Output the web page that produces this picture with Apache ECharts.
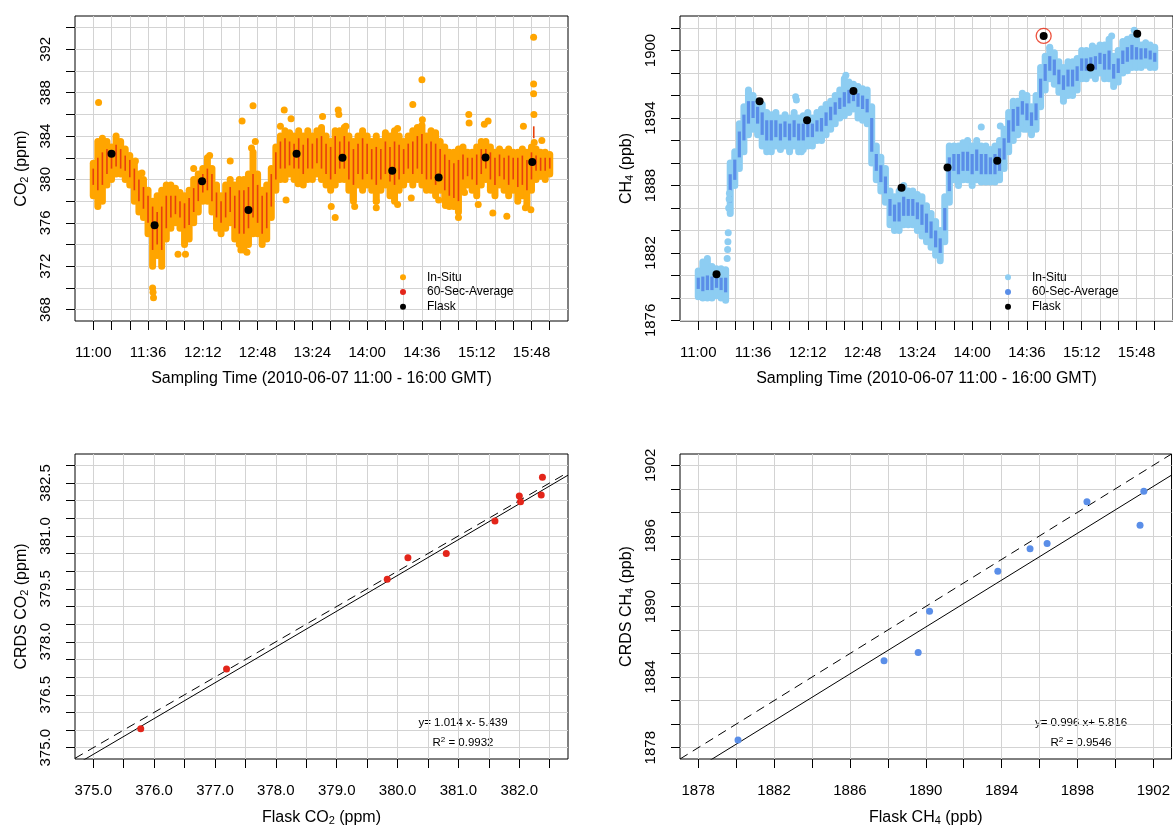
<!DOCTYPE html>
<html><head><meta charset="utf-8">
<script src="https://cdn.jsdelivr.net/npm/echarts@6/dist/echarts.min.js"></script>
<style>html,body{margin:0;padding:0;background:#fff}#c{width:1173px;height:827px}</style>
</head><body><div id="c"></div>
<script>
// ---- time grid (minutes after 11:00 GMT) ----
const minutes = [0,3,6,9,12,15,18,21,24,27,30,33,36,39,42,45,48,51,54,57,60,63,66,69,72,75,78,81,84,87,90,93,96,99,102,105,108,111,114,117,120,123,126,129,132,135,138,141,144,147,150,153,156,159,162,165,168,171,174,177,180,183,186,189,192,195,198,201,204,207,210,213,216,219,222,225,228,231,234,237,240,243,246,249,252,255,258,261,264,267,270,273,276,279,282,285,288,291,294,297,300];
const timeTicks = [0,12,24,36,48,60,72,84,96,108,120,132,144,156,168,180,192,204,216,228,240,252,264,276,288,300];
const timeLabels = [0,36,72,108,144,180,216,252,288];

// ---- CO2 in-situ envelope and 60-sec average streaks (ppm) ----
const co2Lo = [378.5,377.5,378,379.5,380,380.5,380.5,380,379.5,378,377,376.5,375,372,373,372,374.5,375.5,376,375.5,374,374.5,376,377,378,378,377,375.5,375,375.5,376,374.5,374,373.5,374,375,375,374,374.5,376.5,379,380,380,380.5,380,380,379.5,380,380,380.5,380,379.5,379,379.5,380,380,379,378,379.5,379,379.5,379,378,379,379.5,378.5,378,379,379.5,380,379.5,380,379.5,379,379,378.5,379,378,377.5,377.5,377,379,379.5,379,378.5,379.5,380,379,378.5,379.5,379,378.5,379,378,378.5,377.5,379,380,380.3,380,380.5];
const co2Hi = [381.5,383.5,383.8,383.5,383,384,383.5,382.8,382.2,381.5,380.5,380,379,378,378.5,379,379.5,379.5,379.2,378.8,378.5,379,380,380.5,381,382,381,379.5,378.5,379.5,380,379.5,380,380,380.5,382.5,380.5,379,379.5,381,383,384,384.5,384.3,384,384.5,384,384.5,384,384.5,384.8,384,383.5,384.5,384.5,384.8,384,383.5,384,384.5,384,383.5,384,383.5,384.3,384,384.5,384,383.5,384,384.5,384.8,385,384,384.5,384.3,383.5,383,382.5,382.5,382.8,383,382.5,382.5,383,383.5,383.5,383,382.5,382.8,382.5,382.8,382.5,382.5,382.8,382.5,383,382.8,382.5,382.5,382.3];
const co2AvgLo = [379.5,379,379.5,380.5,381,381.2,381,380.8,380.2,379,378,377.3,376,373.5,374,373.5,375.5,376.5,376.8,376.5,375.5,375.8,377,378,378.8,379,378,376.5,376,376.5,377,375.5,375,375,375.5,376.5,376,375,375.5,377.5,380,381,381,381.3,381,381,380.5,381,381,381.5,381,380.5,380,380.5,381,381,380,379.5,380.5,380,380.5,380,379.5,380,380.5,379.8,379.5,380,380.5,381,380.5,381,380.5,380,380,379.5,380,379,378.5,378.3,378,380,380.3,380,379.5,380.5,381,380,379.5,380.3,380,379.5,380,379.3,379.5,379,380,380.8,380.8,380.8,381];
const co2AvgHi = [381,382,382.5,382.8,382.5,383.2,382.8,382.2,381.8,381,380,379.3,378.5,377.5,377,377.5,378.5,378.5,378.5,378,377.8,378.3,379.2,380,380.5,381,380.5,378.8,378,378.8,379.3,378.5,379,379,379.3,380.5,379.5,378.5,378.8,380.5,382.5,383.5,383.8,383.5,383.3,383.8,383.2,383.8,383.3,383.8,384,383.3,383,384,383.5,384,383.5,382.8,383.3,383.8,383.3,382.8,383,382.8,383.5,383,383.5,383.2,382.8,383.3,383.5,384,384.2,383.3,383.5,383.3,382.8,382.3,381.8,381.5,381.8,382.3,382,382,382.3,382.8,382.8,382.5,382,382.3,382,382.2,382,382,382.2,381.8,382.5,382.2,382,382,382];
const co2AvgSpike = [[289.5, 383.8, 384.9]];
const co2Outliers = [[3.5,387.1],[27.7,381.7],[32,380.6],[39,370.0],[39.3,369.6],[39.6,369.1],[55.7,373.1],[60.6,373.1],[66,381],[76.5,382.2],[90,381.7],[97,373.5],[97.8,385.4],[101,373.3],[104,382.9],[105,386.8],[106.5,383.5],[123,384.9],[125.5,386.4],[126.7,378.1],[130,385.6],[134.6,379.6],[150.7,385.8],[156.4,377.5],[159,376.5],[161,386.4],[161.4,386],[166,384.9],[171.8,377.5],[186,378.0],[186,377.4],[200,384.7],[200,377.7],[209,378.3],[210,386.9],[216,389.2],[216.3,385.5],[227,378.1],[231.4,377.6],[240,376.5],[244,378.8],[246.8,386.0],[247,385.2],[253,377.7],[257,385.1],[259.5,385.4],[261,379.3],[262.6,376.9],[271.8,376.6],[282.7,384.9],[284,377.4],[287.6,377.2],[289.4,393.1],[289.4,388.8],[289.4,387.9],[289.6,386.0],[289.8,383.4],[294.8,383.6]];

// ---- CH4 in-situ envelope and 60-sec average streaks (ppb) ----
const ch4Lo = [1878.1,1878.0,1878.0,1878.0,1878.2,1878.0,1877.8,1885.5,1888,1889.5,1891,1892.5,1893,1892.5,1891.5,1891,1891,1891.5,1891.2,1891.5,1891,1891.5,1891,1891.2,1891.5,1891.5,1892,1892,1892.5,1893,1893.5,1894,1894.2,1894.5,1894.8,1894,1893.8,1893.5,1890,1888.5,1887.5,1886.5,1884.5,1884,1884,1884.5,1884.5,1884.5,1884,1883.5,1883,1882.5,1881.8,1881.3,1883,1886.5,1888.5,1888,1888.5,1888.5,1888,1888.5,1888.3,1888.3,1888.3,1888.3,1888.5,1889.5,1891,1892,1892.5,1893.5,1893,1892.5,1893,1895,1896.5,1897.5,1897,1896.3,1895.5,1896,1896,1896.5,1897.5,1897.5,1897.8,1897.5,1898,1897.5,1897.5,1896.8,1897.2,1898,1898.2,1898.5,1898.5,1898.5,1898.7,1898.5,1898.5];
const ch4Hi = [1880.4,1881.2,1881.5,1880.8,1880.6,1880.6,1880.5,1890,1891,1893.5,1895,1896.5,1896,1895.5,1895.2,1894.5,1894.3,1894.5,1894,1894.3,1894,1894.5,1894,1894.2,1894.5,1894,1894.5,1894.8,1895.2,1895.5,1896,1896.5,1897.5,1897.2,1897,1896.8,1896.6,1896.5,1895,1891.5,1890.5,1889.5,1887.5,1887,1887.5,1888,1887.5,1887.5,1887.2,1887,1886.2,1885.5,1884.8,1884,1887,1891.5,1891.5,1891.5,1891.8,1892,1891.5,1892,1891.5,1891.5,1891.2,1891.5,1892,1893,1894.5,1895.5,1895.5,1896.2,1896,1895,1896,1898.5,1899.5,1900.2,1899.8,1899,1898.5,1899,1899,1899.3,1900,1900,1900,1900.2,1900.5,1900.5,1901,1899.5,1900,1900.8,1901,1901.2,1901,1900.5,1900.7,1900.5,1900.3];
const ch4AvgLo = [1878.8,1878.6,1878.7,1878.7,1878.9,1878.7,1878.5,1886.5,1888.5,1890.5,1892,1893.5,1894,1893.5,1892.5,1892,1892,1892.3,1892,1892.3,1892,1892.3,1892,1892,1892.3,1892.3,1892.8,1892.8,1893.3,1893.8,1894.3,1894.8,1895,1895.3,1895.5,1895,1894.8,1894.5,1891,1889.3,1888.3,1887.3,1885.3,1884.8,1884.8,1885.3,1885.3,1885.3,1885,1884.5,1883.8,1883.3,1882.5,1882,1884,1887.5,1889.3,1889,1889.3,1889.3,1889,1889.3,1889,1889,1889,1889,1889.3,1890.3,1891.8,1892.8,1893.3,1894.3,1893.8,1893.3,1893.8,1895.8,1897.3,1898.2,1897.8,1897,1896.5,1896.8,1896.8,1897.3,1898.2,1898.2,1898.5,1898.3,1898.8,1898.3,1898.3,1897.5,1898,1898.8,1899,1899.2,1899.2,1899.2,1899.3,1899.2,1899];
const ch4AvgHi = [1879.8,1879.9,1880.0,1879.9,1880.0,1879.8,1879.8,1889,1890.3,1892.8,1894.3,1895.5,1895.5,1895,1894.5,1893.8,1893.8,1893.8,1893.5,1893.7,1893.5,1893.8,1893.5,1893.5,1893.8,1893.5,1893.8,1894,1894.5,1895,1895.4,1895.8,1896.3,1896.5,1896.5,1896.2,1896,1895.7,1894,1890.8,1889.8,1888.8,1886.8,1886.3,1886.5,1887,1886.8,1886.8,1886.5,1886.3,1885.5,1884.8,1884,1883.3,1886,1890.5,1890.8,1890.8,1891,1891,1890.8,1891.2,1890.8,1890.8,1890.5,1890.8,1891.3,1892.2,1893.8,1894.8,1895,1895.5,1895.3,1894.5,1895.3,1897.5,1898.8,1899.5,1899.2,1898.3,1897.8,1898.3,1898.3,1898.6,1899.3,1899.3,1899.4,1899.5,1899.8,1899.7,1900,1898.8,1899.3,1900,1900.3,1900.5,1900.3,1900.2,1900.2,1900,1899.8];
const ch4Outliers = [[19,1881.5],[19.3,1882.3],[19.5,1883],[19.7,1883.8],[20,1886],[20.3,1886.8],[20.5,1887.3],[64,1895.9],[64.5,1895.6],[67.8,1891.0],[97,1897.8],[186,1893.2],[198.5,1893.3],[214,1893.0],[231,1900.3],[259,1900.4],[271.7,1901.3],[286.5,1901.8]];

// ---- flask samples ----
const flaskTime = [12,40.3,71.5,102,133.6,163.8,196.5,227,257.8,288.5];
const co2Flask = [382.38,375.78,379.83,377.19,382.36,382.0,380.80,380.17,382.02,381.60];
const co2Crds  = [382.66,375.54,379.77,377.23,382.16,382.13,380.50,380.38,381.97,381.42];
const ch4Flask = [1880.1,1895.5,1893.8,1896.4,1887.8,1889.6,1890.2,1901.3,1898.5,1901.5];
const ch4Crds  = [1878.65,1894.9,1893.0,1895.35,1885.4,1886.1,1889.6,1896.9,1898.9,1899.8];
const ch4FlaskCircled = 7;

// ---- regression fits (from annotation) ----
const co2Fit = {slope: 1.014, intercept: -5.439, r2: '0.9932'};
const ch4Fit = {slope: 0.996, intercept: 5.816, r2: '0.9546'};

// ---- tick values ----
const co2Ticks = [368,370,372,374,376,378,380,382,384,386,388,390,392,394];
const co2Labels = [368,372,376,380,384,388,392];
const ch4Ticks = [1876,1878,1880,1882,1884,1886,1888,1890,1892,1894,1896,1898,1900,1902];
const ch4Labels = [1876,1882,1888,1894,1900];
const fco2XTicks = [375,375.5,376,376.5,377,377.5,378,378.5,379,379.5,380,380.5,381,381.5,382,382.5];
const fco2XLabels = [375,376,377,378,379,380,381,382];
const fco2YTicks = [375,375.5,376,376.5,377,377.5,378,378.5,379,379.5,380,380.5,381,381.5,382,382.5,383];
const fco2YLabels = [375,376.5,378,379.5,381,382.5];
const fch4Ticks = [1878,1880,1882,1884,1886,1888,1890,1892,1894,1896,1898,1900,1902];
const fch4XLabels = [1878,1882,1886,1890,1894,1898,1902];
const fch4YLabels = [1878,1884,1890,1896,1902];

// ================= chart =================
const FONT = '"Liberation Sans", Arial, Helvetica, sans-serif';
const FS = 15, NFS = 16;
const C = {
  co2In: '#ffa500', co2Avg: '#e8400c', co2Pt: '#e3251a',
  ch4In: '#8dcdf2', ch4Avg: '#5a8ee8', ch4Pt: '#5a8ee8', grid: '#d3d3d3'
};
const fmtTime = m => (11 + Math.floor(m / 60)) + ':' + String(m % 60).padStart(2, '0');

const grids = [
  {left: 75, top: 16, width: 493, height: 305},
  {left: 680, top: 16, width: 493, height: 305},
  {left: 75, top: 454, width: 493, height: 305},
  {left: 680, top: 454, width: 493, height: 305}
].map(g => Object.assign(g, {show: true, borderColor: '#000', borderWidth: 1, containLabel: false}));

function mkAxis(dim, gi, min, max, ticks, labels, fmt, name) {
  const isY = dim === 'y';
  return {
    type: 'value', gridIndex: gi, min, max, position: isY ? 'left' : 'bottom',
    axisLine: {show: false, onZero: false},
    axisTick: {show: true, inside: false, length: 9, customValues: ticks, lineStyle: {color: '#000', width: 1}},
    axisLabel: {show: true, customValues: labels, formatter: fmt, rotate: isY ? 90 : 0,
      margin: isY ? 22 : 24, color: '#000', fontSize: FS, fontFamily: FONT},
    splitLine: {show: true, lineStyle: {color: C.grid, width: 1}},
    name, nameLocation: 'middle', nameGap: isY ? 45 : 50,
    nameTextStyle: {color: '#000', fontSize: NFS, fontFamily: FONT,
      rich: {n: {fontSize: NFS, fontFamily: FONT, color: '#000'},
             s: {fontSize: 11, fontFamily: FONT, color: '#000', padding: [6, 0, 0, 0]}}}
  };
}

const xAxis = [
  mkAxis('x', 0, -12, 312, timeTicks, timeLabels, fmtTime, 'Sampling Time (2010-06-07 11:00 - 16:00 GMT)'),
  mkAxis('x', 1, -12, 312, timeTicks, timeLabels, fmtTime, 'Sampling Time (2010-06-07 11:00 - 16:00 GMT)'),
  mkAxis('x', 2, 374.70, 382.80, fco2XTicks, fco2XLabels, v => v.toFixed(1), '{n|Flask CO}{s|2}{n| (ppm)}'),
  mkAxis('x', 3, 1877.04, 1902.96, fch4Ticks, fch4XLabels, v => String(v), '{n|Flask CH}{s|4}{n| (ppb)}')
];
const yAxis = [
  mkAxis('y', 0, 366.95, 395.07, co2Ticks, co2Labels, v => String(v), '{n|CO}{s|2}{n| (ppm)}'),
  mkAxis('y', 1, 1875.95, 1903.07, ch4Ticks, ch4Labels, v => String(v), '{n|CH}{s|4}{n| (ppb)}'),
  mkAxis('y', 2, 374.68, 383.32, fco2YTicks, fco2YLabels, v => v.toFixed(1), '{n|CRDS CO}{s|2}{n| (ppm)}'),
  mkAxis('y', 3, 1877.04, 1902.96, fch4Ticks, fch4YLabels, v => String(v), '{n|CRDS CH}{s|4}{n| (ppb)}')
];

function vSegSeries(name, gi, rows, color, width, cap) {
  return {
    type: 'custom', name, xAxisIndex: gi, yAxisIndex: gi, clip: true,
    encode: {x: 0, y: [1, 2]}, data: rows, silent: true,
    renderItem: (p, api) => {
      const a = api.coord([api.value(0), api.value(1)]);
      const b = api.coord([api.value(0), api.value(2)]);
      return {type: 'line', shape: {x1: a[0], y1: a[1], x2: b[0], y2: b[1]},
        style: {stroke: color, lineWidth: width, lineCap: cap}};
    }
  };
}
const rows = (lo, hi) => minutes.map((t, i) => [t, lo[i], hi[i]]);

function fitLine(gi, fit, xmin, xmax, dashed) {
  const f = x => dashed ? x : fit.slope * x + fit.intercept;
  return {type: 'line', xAxisIndex: gi, yAxisIndex: gi, clip: true, symbol: 'none', silent: true,
    data: [[xmin, f(xmin)], [xmax, f(xmax)]],
    lineStyle: {color: '#000', width: 1, type: dashed ? [9, 6] : 'solid'}, z: 3};
}

const series = [
  // CO2 time series
  vSegSeries('In-Situ', 0, rows(co2Lo, co2Hi), C.co2In, 7, 'round'),
  {type: 'scatter', name: 'In-Situ', xAxisIndex: 0, yAxisIndex: 0, symbolSize: 7, silent: true,
   itemStyle: {color: C.co2In, opacity: 1}, data: co2Outliers},
  vSegSeries('60-Sec-Average', 0, rows(co2AvgLo, co2AvgHi), C.co2Avg, 1.6, 'butt'),
  vSegSeries('60-Sec-Average', 0, co2AvgSpike, C.co2Avg, 1.6, 'butt'),
  {type: 'scatter', name: 'Flask', xAxisIndex: 0, yAxisIndex: 0, symbolSize: 8, silent: true, z: 5,
   itemStyle: {color: '#000', opacity: 1}, data: flaskTime.map((t, i) => [t, co2Flask[i]])},
  // CH4 time series
  vSegSeries('In-Situ ', 1, rows(ch4Lo, ch4Hi), C.ch4In, 7, 'round'),
  {type: 'scatter', name: 'In-Situ ', xAxisIndex: 1, yAxisIndex: 1, symbolSize: 7, silent: true,
   itemStyle: {color: C.ch4In, opacity: 1}, data: ch4Outliers},
  vSegSeries('60-Sec-Average ', 1, rows(ch4AvgLo, ch4AvgHi), C.ch4Avg, 3.2, 'butt'),
  {type: 'scatter', name: 'Flask ', xAxisIndex: 1, yAxisIndex: 1, symbolSize: 8, silent: true, z: 5,
   itemStyle: {color: '#000', opacity: 1}, data: flaskTime.map((t, i) => [t, ch4Flask[i]])},
  {type: 'scatter', name: 'circled', xAxisIndex: 1, yAxisIndex: 1, symbol: 'circle', symbolSize: 15, silent: true, z: 6,
   itemStyle: {color: 'rgba(0,0,0,0)', borderColor: '#e8280f', borderWidth: 1.3},
   data: [[flaskTime[ch4FlaskCircled], ch4Flask[ch4FlaskCircled]]]},
  // CO2 scatter
  fitLine(2, co2Fit, 374.70, 382.80, false),
  fitLine(2, co2Fit, 374.70, 382.80, true),
  {type: 'scatter', xAxisIndex: 2, yAxisIndex: 2, symbolSize: 7, silent: true, z: 4,
   itemStyle: {color: C.co2Pt, opacity: 1}, data: co2Flask.map((v, i) => [v, co2Crds[i]])},
  // CH4 scatter
  fitLine(3, ch4Fit, 1877.04, 1902.96, false),
  fitLine(3, ch4Fit, 1877.04, 1902.96, true),
  {type: 'scatter', xAxisIndex: 3, yAxisIndex: 3, symbolSize: 7, silent: true, z: 4,
   itemStyle: {color: C.ch4Pt, opacity: 1}, data: ch4Flask.map((v, i) => [v, ch4Crds[i]])}
];

function mkLegend(left, names, colors) {
  return {
    left, top: 265, orient: 'vertical', itemWidth: 38, itemHeight: 6, itemGap: 0, selectedMode: false,
    icon: 'circle', textStyle: {fontSize: 12, fontFamily: FONT, color: '#000', lineHeight: 14.7},
    data: names.map((n, i) => ({name: n, icon: 'circle', itemStyle: {color: colors[i], borderWidth: 0}}))
  };
}

const eqStyle = {fontSize: 11.5, fontFamily: FONT, fill: '#000', align: 'center', verticalAlign: 'middle'};
function eqGraphics(cx, fit) {
  const sgn = fit.intercept < 0 ? '- ' : '+ ';
  return [
    {type: 'text', x: cx, y: 723, style: Object.assign({}, eqStyle,
      {text: 'y= ' + fit.slope.toFixed(3) + ' x' + sgn + Math.abs(fit.intercept).toFixed(3)})},
    {type: 'text', x: cx, y: 743, style: Object.assign({}, eqStyle,
      {text: '{r|R}{p|2}{r| = ' + fit.r2 + '}',
       rich: {r: {fontSize: 11.5, fontFamily: FONT, fill: '#000'},
              p: {fontSize: 8, fontFamily: FONT, fill: '#000', padding: [0, 0, 7, 0]}}})}
  ];
}

const chart = echarts.init(document.getElementById('c'), null, {renderer: 'canvas'});
chart.setOption({
  animation: false, backgroundColor: '#fff',
  grid: grids, xAxis, yAxis, series,
  legend: [
    mkLegend(395, ['In-Situ', '60-Sec-Average', 'Flask'], [C.co2In, C.co2Pt, '#000']),
    mkLegend(1000, ['In-Situ ', '60-Sec-Average ', 'Flask '], [C.ch4In, C.ch4Avg, '#000'])
  ],
  graphic: [].concat(eqGraphics(463, co2Fit), eqGraphics(1081, ch4Fit))
});
</script></body></html>
